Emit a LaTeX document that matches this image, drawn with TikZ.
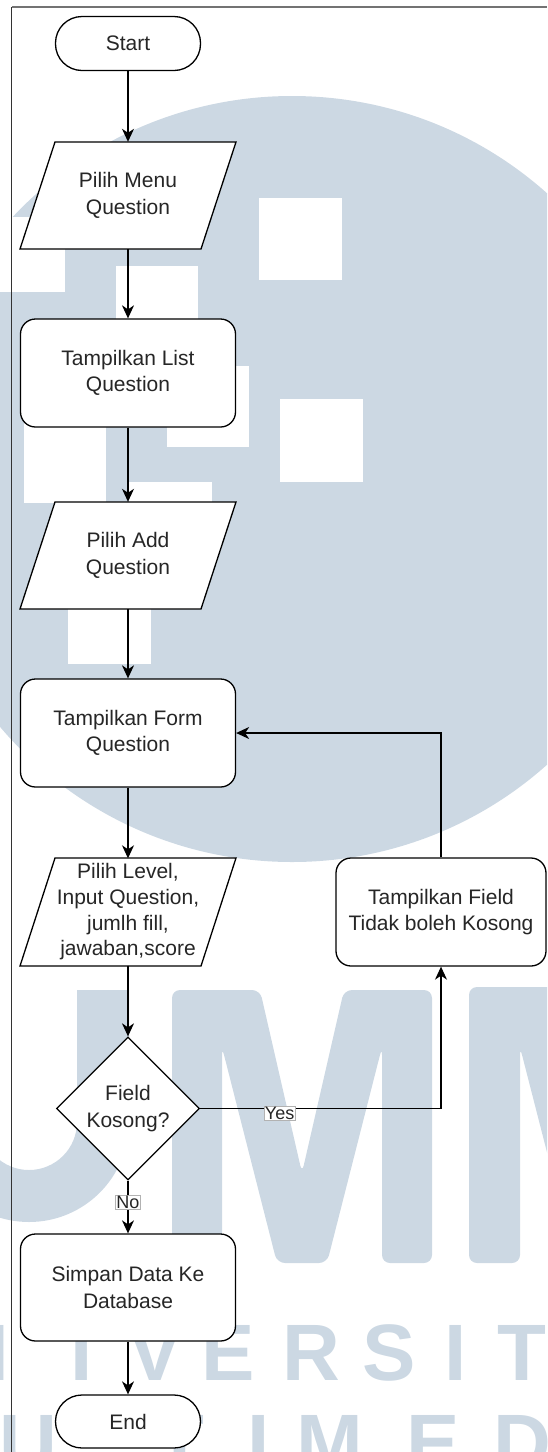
\documentclass[tikz,border=0pt]{standalone}
\usepackage{fontspec}
\setmainfont{Liberation Sans}
\usetikzlibrary{arrows.meta,shapes.geometric}
\definecolor{wmblue}{HTML}{CCD8E3}
\definecolor{ink}{HTML}{262626}

\begin{document}
\begin{tikzpicture}[x=1pt,y=-1pt,
  shapeline/.style={draw=black, line width=1.3pt, fill=white},
  txt/.style={font=\fontsize{21}{26.5}\selectfont, text=ink, align=center},
  termbox/.style={shapeline, txt, rectangle, rounded corners=26.5pt,
    minimum width=145pt, minimum height=54pt, inner sep=0pt},
  procbox/.style={shapeline, txt, rectangle, rounded corners=15pt,
    minimum width=215pt, minimum height=108pt, inner sep=0pt},
  iotext/.style={txt, rectangle, minimum width=216pt, minimum height=107pt, inner sep=0pt},
  iobox/.style={shapeline, line join=miter},
  decision/.style={shapeline, txt, diamond, aspect=1,
    minimum width=143pt, minimum height=143pt, inner sep=0pt},
  flow/.style={line width=1.3pt, draw=black, -{Stealth[length=13pt,width=12pt,inset=4pt]}},
  edgelabel/.style={font=\fontsize{18}{20}\selectfont, text=ink, fill=white,
    draw=black!30, line width=0.6pt, inner sep=1pt},
  wm/.style={fill=wmblue},
  wmletter/.style={font=\fontsize{80}{80}\selectfont\bfseries, text=wmblue,
    anchor=base, inner sep=0pt}
]
\useasboundingbox (0,0) rectangle (547,1452);
\clip (0,0) rectangle (547,1452);

% ---- background emblem ----
\fill[wm] (292,479) circle[radius=383];
\fill[white] (-20,217) rectangle (65,292);
\fill[white] (259,198) rectangle (342,280);
\fill[white] (116,266) rectangle (198,348);
\fill[white] (167,366) rectangle (249,447);
\fill[white] (280,399) rectangle (363,482);
\fill[white] (24,421) rectangle (106,503);
\fill[white] (129,482) rectangle (212,565);
\fill[white] (68,582) rectangle (151,664);

% large letters
\fill[wm] (77,1122) -- (77,990) -- (129,990) -- (129,1122)
  arc[start angle=0,end angle=180,radius=100] -- (-71,990) -- (-19,990) -- (-19,1122)
  arc[start angle=180,end angle=0,radius=48] -- cycle;
\fill[wm, rounded corners=8pt] (172,1263) -- (172,990) -- (260,990) -- (302,1173)
  -- (344,990) -- (432,990) -- (432,1263) -- (382,1263) -- (382,1047)
  -- (327,1263) -- (277,1263) -- (222,1047) -- (222,1263) -- cycle;
\fill[wm, rounded corners=8pt] (469,1263) -- (469,987) -- (555,987) -- (640,1320)
  -- (590,1320) -- (520,1047) -- (520,1263) -- cycle;

% spaced lettering
\node[wmletter] (wa1) at (-20,1380) {N};
\node[wmletter] (wa2) at (82,1380) {I};
\node[wmletter] (wa3) at (155,1380) {V};
\node[wmletter] (wa4) at (228,1380) {E};
\node[wmletter] (wa5) at (311,1380) {R};
\node[wmletter] (wa6) at (389,1380) {S};
\node[wmletter] (wa7) at (456,1380) {I};
\node[wmletter] (wa8) at (522,1380) {T};
\node[wmletter] (wb1) at (28,1470) {U};
\node[wmletter] (wb3) at (180,1470) {T};
\node[wmletter] (wb4) at (259,1470) {I};
\node[wmletter] (wb5) at (330,1470) {M};
\node[wmletter] (wb6) at (433,1470) {E};
\node[wmletter] (wb7) at (522,1470) {D};

% page frame
\draw[black!55, line width=1.2pt] (11.5,7) -- (547,7);
\draw[black!80, line width=1.2pt] (11.5,7) -- (11.5,1452);

% ---- flowchart ----
\node[termbox] (start) at (128,43.5) {Start};

\draw[iobox, shift={(128,195.5)}] (-73,-53.5) -- (108,-53.5) -- (73,53.5) -- (-108,53.5) -- cycle;
\node[iotext] (p1) at (128,195.5) {Pilih Menu\\Question};

\node[procbox] (r1) at (128,373) {Tampilkan List\\Question};

\draw[iobox, shift={(128,555.5)}] (-73,-53.5) -- (108,-53.5) -- (73,53.5) -- (-108,53.5) -- cycle;
\node[iotext] (p2) at (128,555.5) {Pilih Add\\Question};

\node[procbox] (r2) at (128,733) {Tampilkan Form\\Question};

\draw[iobox, shift={(128,912)}] (-73,-54) -- (108,-54) -- (73,54) -- (-108,54) -- cycle;
\node[iotext, font=\fontsize{21}{25.7}\selectfont] (p3) at (128,912)
  {Pilih Level,\\Input Question,\\jumlh fill,\\jawaban,score};

\node[decision] (d) at (128,1108.5) {Field\\Kosong?};

\node[procbox, minimum width=210pt] (rf) at (441,912) {Tampilkan Field\\Tidak boleh Kosong};

\node[procbox, minimum height=107pt] (r3) at (128,1287.5) {Simpan Data Ke\\Database};

\node[termbox, minimum height=53pt] (end) at (128,1421.5) {End};

% connectors
\draw[flow] (start) -- (p1);
\draw[flow] (p1) -- (r1);
\draw[flow] (r1) -- (p2);
\draw[flow] (p2) -- (r2);
\draw[flow] (r2) -- (p3);
\draw[flow] (p3) -- (d);
\draw[flow] (d.east) -- node[edgelabel, pos=0.33, yshift=-5pt] (yes) {Yes}
  (d.east -| rf.south) -- (rf.south);
\draw[flow] (rf.north) |- (r2.east);
\draw[flow] (d.south) -- node[edgelabel, pos=0.41] (no) {No} (r3.north);
\draw[flow] (r3) -- (end);
\end{tikzpicture}
\end{document}
